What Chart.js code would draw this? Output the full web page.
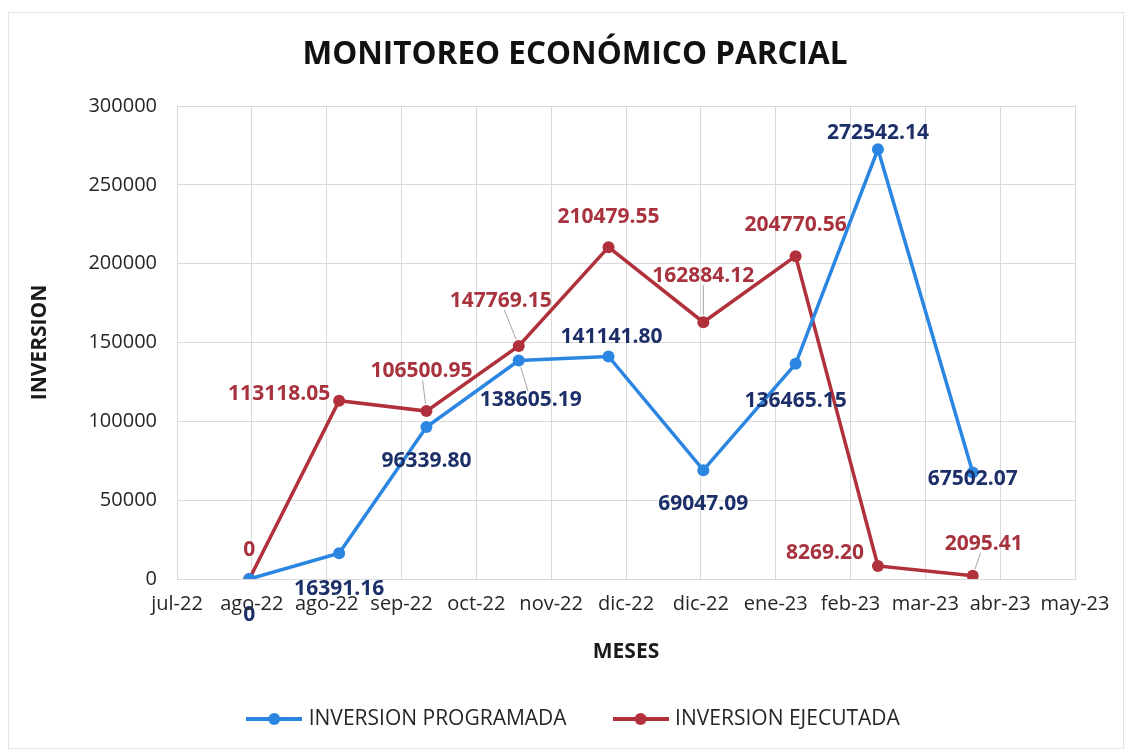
<!DOCTYPE html>
<html lang="es">
<head>
<meta charset="utf-8">
<title>Monitoreo económico parcial</title>
<script src="https://cdn.jsdelivr.net/npm/chart.js@4.4.1/dist/chart.umd.min.js"></script>
<style>
  html, body { margin: 0; padding: 0; background: #ffffff; }
  #marco { width: 1133px; height: 753px; }
</style>
</head>
<body>
<div id="marco"><canvas id="grafico" width="1133" height="753"></canvas></div>
<script>
// Etiquetas del eje de meses (una por línea de cuadrícula, cada 30 días)
const etiquetasMeses = ['jul-22', 'ago-22', 'ago-22', 'sep-22', 'oct-22', 'nov-22', 'dic-22',
                        'dic-22', 'ene-23', 'feb-23', 'mar-23', 'abr-23', 'may-23'];
const diasPorDivision = 30;

// Fecha de cada corte, en días desde el inicio del eje
const diasCorte = [29, 65, 100, 137, 173, 211, 248, 281, 319];

// Montos de cada corte
const inversionProgramada = [0, 16391.16, 96339.80, 138605.19, 141141.80, 69047.09, 136465.15, 272542.14, 67502.07];
const inversionEjecutada  = [0, 113118.05, 106500.95, 147769.15, 210479.55, 162884.12, 204770.56, 8269.20, 2095.41];

// Eje vertical
const inversionMin = 0;
const inversionMax = 300000;
const inversionPaso = 50000;

// Colores
const azulLinea = '#2b86e2';
const azulTexto = '#1d2f68';
const rojoLinea = '#b0313b';
const rojoTexto = '#a8323d';
const colorRejilla = '#d9d9d9';
const colorTexto = '#262626';
const fuente = "'Open Sans', 'Liberation Sans', sans-serif";

// Ubicación de cada rótulo respecto de su punto: [dx, dy, línea guía, bajo el texto del eje]
const rotulosProgramada = [[0, 36, false, true], [0, 36, false], [0, 34, false], [12, 40, true], [3, -19, false],
                           [0, 34, false], [0, 37, false], [0, -16, false], [0, 6, false]];
const rotulosEjecutada  = [[0, -29, false], [-60, -7, false], [-5, -40, true], [-18, -45, true], [0, -30, false],
                           [0, -46, true], [0, -31, false], [-53, -13, false], [11, -32, true]];

const puntos = (valores) => valores.map((v, i) => ({ x: diasCorte[i], y: v }));

// Símbolo de leyenda: tramo de línea con marcador circular
function simboloLeyenda(color) {
  const c = document.createElement('canvas');
  c.width = 56; c.height = 14;
  const g = c.getContext('2d');
  g.strokeStyle = color; g.lineWidth = 4;
  g.beginPath(); g.moveTo(0, 7); g.lineTo(56, 7); g.stroke();
  g.fillStyle = color;
  g.beginPath(); g.arc(28, 7, 6, 0, Math.PI * 2); g.fill();
  return c;
}

function formatoMonto(v) {
  return v === 0 ? '0' : v.toFixed(2);
}

const conjuntosRotulos = () => [
  { ubic: rotulosProgramada, color: azulTexto, datos: inversionProgramada },
  { ubic: rotulosEjecutada, color: rojoTexto, datos: inversionEjecutada }
];

// Dibuja los rótulos de valor; "detras" elige los que quedan bajo el texto del eje
function dibujarRotulos(chart, detras) {
  const ctx = chart.ctx;
  ctx.save();
  ctx.font = "bold 21px " + fuente;
  ctx.textAlign = 'center';
  ctx.textBaseline = 'middle';
  conjuntosRotulos().forEach((cj, d) => {
    const meta = chart.getDatasetMeta(d);
    meta.data.forEach((pt, i) => {
      const [dx, dy, guia, bajoEje] = cj.ubic[i];
      if (!!bajoEje !== detras) return;
      const texto = formatoMonto(cj.datos[i]);
      const lx = pt.x + dx, ly = pt.y + dy;
      if (guia) {
        const w = ctx.measureText(texto).width;
        const vx = pt.x - lx, vy = pt.y - ly;
        const tx = vx !== 0 ? (w / 2 + 1) / Math.abs(vx) : Infinity;
        const ty = vy !== 0 ? 9 / Math.abs(vy) : Infinity;
        const t0 = Math.min(tx, ty);
        const t1 = 1 - 7 / Math.hypot(vx, vy);
        if (t0 < t1) {
          ctx.strokeStyle = '#a6a6a6';
          ctx.lineWidth = 1;
          ctx.beginPath();
          ctx.moveTo(lx + vx * t0, ly + vy * t0);
          ctx.lineTo(lx + vx * t1, ly + vy * t1);
          ctx.stroke();
        }
      }
      ctx.fillStyle = cj.color;
      ctx.fillText(texto, lx, ly);
    });
  });
  ctx.restore();
}

// Fondo blanco, marco exterior tenue y rótulos que quedan detrás del eje
const fondo = {
  id: 'fondo',
  beforeDraw(chart) {
    const ctx = chart.ctx;
    ctx.save();
    ctx.fillStyle = '#ffffff';
    ctx.fillRect(0, 0, chart.width, chart.height);
    ctx.strokeStyle = '#e4e4e4';
    ctx.lineWidth = 1;
    ctx.strokeRect(8.5, 12.5, chart.width - 18, chart.height - 17);
    ctx.restore();
    dibujarRotulos(chart, true);
  }
};

const rotulosValor = {
  id: 'rotulosValor',
  afterDatasetsDraw(chart) {
    dibujarRotulos(chart, false);
  }
};

new Chart(document.getElementById('grafico'), {
  type: 'line',
  data: {
    datasets: [
      {
        label: 'INVERSION PROGRAMADA',
        data: puntos(inversionProgramada),
        borderColor: azulLinea,
        backgroundColor: azulLinea,
        borderWidth: 3.5,
        pointRadius: 6,
        pointBorderWidth: 0,
        pointBackgroundColor: azulLinea,
        tension: 0
      },
      {
        label: 'INVERSION EJECUTADA',
        data: puntos(inversionEjecutada),
        borderColor: rojoLinea,
        backgroundColor: rojoLinea,
        borderWidth: 3.5,
        pointRadius: 6,
        pointBorderWidth: 0,
        pointBackgroundColor: rojoLinea,
        tension: 0
      }
    ]
  },
  options: {
    responsive: false,
    animation: false,
    devicePixelRatio: 1,
    layout: { padding: { left: 75, right: 58, top: 0, bottom: 13.5 } },
    scales: {
      x: {
        type: 'linear',
        min: 0,
        max: diasPorDivision * (etiquetasMeses.length - 1),
        afterBuildTicks(s) {
          s.ticks = etiquetasMeses.map((_, i) => ({ value: i * diasPorDivision }));
        },
        ticks: {
          autoSkip: false,
          maxRotation: 0,
          minRotation: 0,
          padding: 13,
          color: colorTexto,
          font: { family: fuente, size: 20 },
          callback: (v) => etiquetasMeses[Math.round(v / diasPorDivision)]
        },
        grid: { color: colorRejilla, lineWidth: 1, drawTicks: false },
        border: { color: colorRejilla },
        title: {
          display: true,
          text: 'MESES',
          color: '#1a1a1a',
          font: { family: fuente, size: 21, weight: 'bold', lineHeight: 1 },
          padding: { top: 0, bottom: -4 }
        },
        afterFit(s) { s.height = 79.5; }
      },
      y: {
        min: inversionMin,
        max: inversionMax,
        ticks: {
          stepSize: inversionPaso,
          padding: 20,
          color: colorTexto,
          font: { family: fuente, size: 20 },
          callback: (v) => String(v)
        },
        grid: { color: colorRejilla, lineWidth: 1, drawTicks: false },
        border: { color: colorRejilla },
        title: {
          display: true,
          text: 'INVERSION',
          color: '#1a1a1a',
          font: { family: fuente, size: 21, weight: 'bold', lineHeight: 1.2 },
          padding: { top: -47.5, bottom: 0 }
        },
        afterFit(s) { s.width = 102; }
      }
    },
    plugins: {
      title: {
        display: true,
        text: 'MONITOREO ECONÓMICO PARCIAL',
        color: '#111111',
        font: { family: fuente, size: 31.5, weight: 'bold', lineHeight: 1.2 },
        padding: { top: 36, bottom: 32.2 }
      },
      legend: {
        position: 'bottom',
        labels: {
          usePointStyle: true,
          pointStyleWidth: 48,
          boxHeight: 14,
          padding: 50,
          color: colorTexto,
          font: { family: fuente, size: 21 },
          generateLabels(chart) {
            const items = Chart.defaults.plugins.legend.labels.generateLabels(chart);
            items.forEach((it, i) => {
              it.pointStyle = simboloLeyenda(i === 0 ? azulLinea : rojoLinea);
            });
            return items;
          }
        }
      },
      tooltip: { enabled: false }
    }
  },
  plugins: [fondo, rotulosValor]
});
</script>
</body>
</html>
